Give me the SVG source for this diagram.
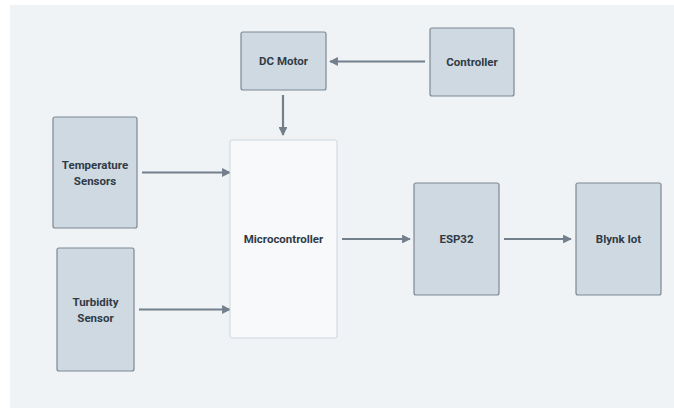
<svg xmlns="http://www.w3.org/2000/svg" width="674" height="408" viewBox="0 0 674 408">
<defs>
<style>
.node{fill:#cfd9e1;stroke:#7d8893;stroke-width:1.2}
.mc{fill:#f7f9fb;stroke:#cdd6de;stroke-width:1}
.lbl{font-family:Roboto,"Liberation Sans",sans-serif;font-weight:bold;font-size:11.5px;fill:#2f3b46;text-anchor:middle}
.edge{stroke:#73808c;stroke-width:2.2;fill:none;marker-end:url(#ah)}
</style>
<marker id="ah" viewBox="0 0 10 10" refX="9" refY="5" markerWidth="4" markerHeight="4" orient="auto" markerUnits="strokeWidth">
<path d="M0,0 L10,5 L0,10 z" fill="#73808c"/>
</marker>
</defs>
<rect x="0" y="0" width="674" height="408" fill="#ffffff"/>
<rect x="10" y="5" width="664" height="403" fill="#eff3f6"/>
<g id="connectors">
<line class="edge" x1="425" y1="61.5" x2="330" y2="61.5"/>
<line class="edge" x1="283" y1="95" x2="283" y2="135"/>
<line class="edge" x1="142" y1="172.5" x2="230" y2="172.5"/>
<line class="edge" x1="139" y1="309.5" x2="230" y2="309.5"/>
<line class="edge" x1="342" y1="239" x2="410" y2="239"/>
<line class="edge" x1="504" y1="239" x2="571" y2="239"/>
</g>
<g id="dcmotor">
<rect class="node" x="241" y="32" width="85" height="58" rx="2"/>
<text class="lbl" x="283.5" y="65">DC Motor</text>
</g>
<g id="controller">
<rect class="node" x="430" y="28" width="84" height="68" rx="2"/>
<text class="lbl" x="472" y="66">Controller</text>
</g>
<g id="temperature">
<rect class="node" x="53" y="117" width="84" height="111" rx="2"/>
<text class="lbl" x="95" y="169">Temperature</text>
<text class="lbl" x="95" y="185">Sensors</text>
</g>
<g id="turbidity">
<rect class="node" x="57" y="248" width="77" height="123" rx="2"/>
<text class="lbl" x="95.5" y="306">Turbidity</text>
<text class="lbl" x="95.5" y="322">Sensor</text>
</g>
<g id="microcontroller">
<rect class="mc" x="230" y="140" width="107" height="198" rx="2"/>
<text class="lbl" x="283.5" y="243">Microcontroller</text>
</g>
<g id="esp32">
<rect class="node" x="414" y="183" width="85" height="112" rx="2"/>
<text class="lbl" x="456.5" y="243">ESP32</text>
</g>
<g id="blynk">
<rect class="node" x="576" y="183" width="85" height="112" rx="2"/>
<text class="lbl" x="618.5" y="243">Blynk Iot</text>
</g>
</svg>
